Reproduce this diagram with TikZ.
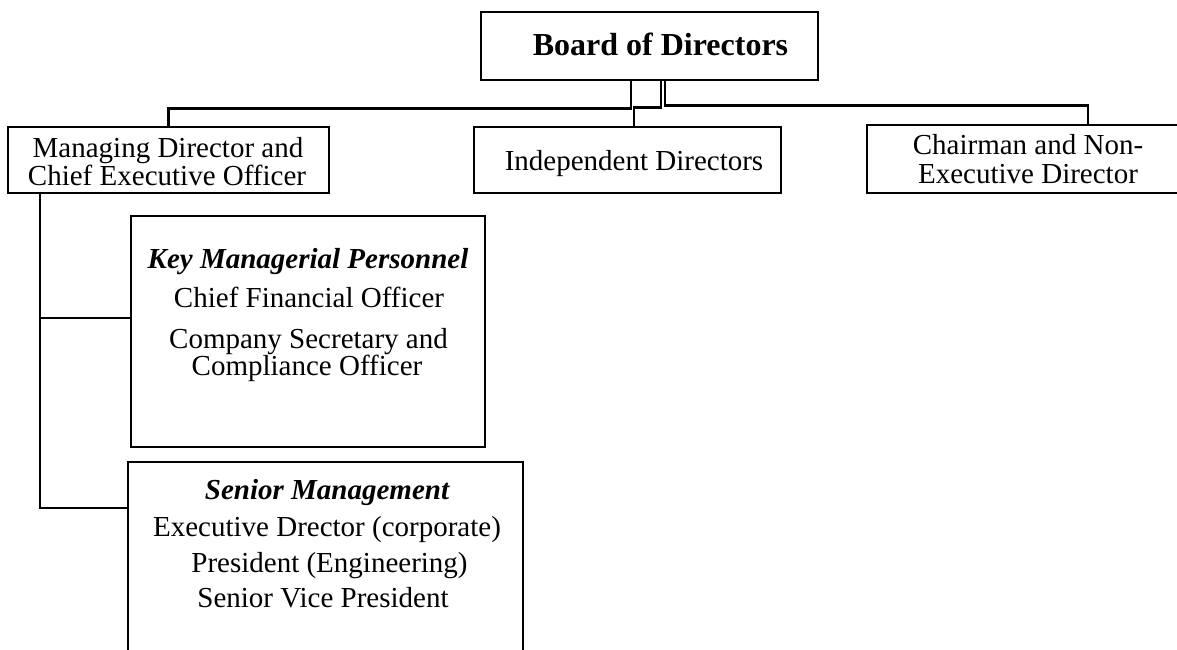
\documentclass[tikz,border=0pt]{standalone}
\usepackage{fontspec}
\setmainfont{Liberation Serif}
\begin{document}
\begin{tikzpicture}[x=1pt,y=-1pt,
  box/.style={draw,line width=2.6pt,rectangle,inner sep=0pt},
  conn/.style={line width=2.5pt},
  txt/.style={anchor=base,inner sep=0pt,font=\fontsize{29}{34}\selectfont},
  ttl/.style={anchor=base,inner sep=0pt,font=\fontsize{32}{38}\selectfont\bfseries},
  hdr/.style={anchor=base,inner sep=0pt,font=\fontsize{29}{34}\selectfont\bfseries\itshape}]
\useasboundingbox (0,0) rectangle (1177,649);
\clip (0,0) rectangle (1177,649);
% boxes
\node[box,minimum width=337pt,minimum height=68pt] (board) at (649.5,46) {};
\node[box,minimum width=321pt,minimum height=66pt] (md) at (168.5,160) {};
\node[box,minimum width=307pt,minimum height=66pt] (ind) at (627.5,160) {};
\node[box,minimum width=323pt,minimum height=68pt] (ch) at (1028.5,159) {};
\node[box,minimum width=354pt,minimum height=231pt] (kmp) at (308,331.5) {};
\node[box,minimum width=395pt,minimum height=218pt] (sm) at (325.5,571) {};
% connectors
\draw[conn] ([xshift=-18.5pt]board.south) -- ++(0,27) -| (md.north);
\draw[conn] ([xshift=11.5pt]board.south) -- ++(0,26) -| ([xshift=6.5pt]ind.north);
\draw[conn] ([xshift=15.5pt]board.south) -- ++(0,24) -| ([xshift=59.5pt]ch.north);
\draw[conn] ([xshift=-128.5pt]md.south) |- ([yshift=13.5pt]kmp.west);
\draw[conn] ([xshift=-128.5pt]md.south) |- ([yshift=63pt]sm.west);
% texts
\node[ttl] (tboard) at (660.5,55) {Board of Directors};
\node[txt] (tmd1) at (168,157) {Managing Director and};
\node[txt] (tmd2) at (167,185) {Chief Executive Officer};
\node[txt] (tind) at (634,170) {Independent Directors};
\node[txt] (tch1) at (1028,154) {Chairman and Non-};
\node[txt] (tch2) at (1028,183) {Executive Director};
\node[hdr] (tk1) at (308,268) {Key Managerial Personnel};
\node[txt] (tk2) at (309,307) {Chief Financial Officer};
\node[txt] (tk3) at (308.5,348) {Company Secretary and};
\node[txt] (tk4) at (307,375) {Compliance Officer};
\node[hdr] (ts1) at (327,499) {Senior Management};
\node[txt] (ts2) at (327,536) {Executive Drector (corporate)};
\node[txt] (ts3) at (329.5,572) {President (Engineering)};
\node[txt] (ts4) at (323,607) {Senior Vice President};
\end{tikzpicture}
\end{document}
